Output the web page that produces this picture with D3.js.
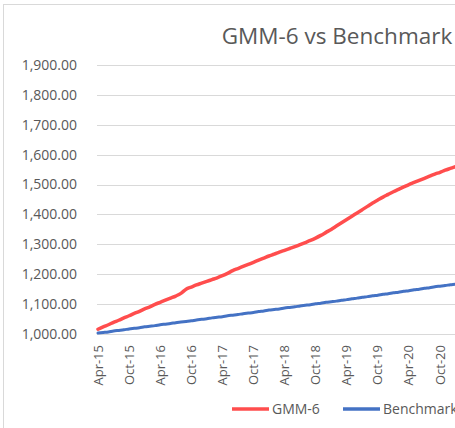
<!DOCTYPE html>
<html>
<head>
<meta charset="utf-8">
<script src="https://cdn.jsdelivr.net/npm/d3@7"></script>
<style>
  html, body { margin: 0; padding: 0; background: #fff; }
  svg { display: block; font-family: "Open Sans", sans-serif; }
</style>
</head>
<body>
<svg id="chart" width="455" height="428"></svg>
<script>
// ---- data ----
const gmm = [1016,1024,1031,1039,1046,1054,1061,1069,1076,1084,1091,1099,
  1106,1113,1120,1127,1136,1150,1157,1164,1170,1176,1182,1188,
  1195,1203,1212,1219,1226,1233,1240,1247,1254,1261,1267,1274,
  1280,1286,1292,1299,1306,1313,1321,1330,1340,1350,1361,1372,
  1383,1394,1405,1416,1427,1438,1448,1458,1467,1476,1484,1492,
  1500,1507,1514,1521,1528,1535,1541,1548,1554,1560,1567,1573,1580];
const benchmark = [1003,1005,1007,1010,1012,1014,1017,1019,1021,1024,1026,1028,
  1031,1033,1035,1038,1040,1042,1044,1047,1049,1051,1054,1056,
  1058,1061,1063,1065,1068,1070,1072,1075,1077,1080,1082,1084,
  1087,1089,1091,1094,1096,1098,1101,1103,1106,1108,1110,1113,
  1115,1118,1120,1123,1125,1128,1130,1133,1135,1138,1140,1143,
  1145,1148,1150,1153,1155,1158,1160,1162,1165,1167,1170,1172,1175];
const xTickLabels = ["Apr-15","Oct-15","Apr-16","Oct-16","Apr-17","Oct-17",
  "Apr-18","Oct-18","Apr-19","Oct-19","Apr-20","Oct-20"];
const yTicks = [1000,1100,1200,1300,1400,1500,1600,1700,1800,1900];
const title = "GMM-6 vs Benchmark";
const seriesNames = ["GMM-6", "Benchmark"];
const colors = ["#FF4D4D", "#4472C4"];

// ---- layout ----
const svg = d3.select("#chart");
const x = d3.scaleLinear().domain([0, 66]).range([98, 440]);
const y = d3.scaleLinear().domain([1000, 1900]).range([334, 65]);
const textColor = "#595959";

// chart border
svg.append("rect").attr("x", 3.5).attr("y", 4.5).attr("width", 600).attr("height", 600)
  .attr("fill", "none").attr("stroke", "#d9d9d9").attr("stroke-width", 1);

// gridlines
svg.append("g").selectAll("line").data(yTicks).join("line")
  .attr("x1", 97).attr("x2", 600)
  .attr("y1", d => Math.round(y(d)) + 0.5).attr("y2", d => Math.round(y(d)) + 0.5)
  .attr("stroke", "#d9d9d9").attr("stroke-width", 1);

// y axis labels
const fmt = d3.format(",.2f");
svg.append("g").selectAll("text").data(yTicks).join("text")
  .attr("x", 77).attr("y", d => y(d)).attr("dy", "0.35em")
  .attr("text-anchor", "end").attr("fill", textColor)
  .style("font-size", "14px").text(d => fmt(d));

// x axis labels
svg.append("g").selectAll("text").data(xTickLabels).join("text")
  .attr("transform", (d, i) => `translate(${x(i * 6)},345) rotate(-90)`)
  .attr("dy", "0.35em").attr("text-anchor", "end").attr("fill", textColor)
  .style("font-size", "13px").text(d => d);

// lines (benchmark below, GMM on top)
const line = d3.line().curve(d3.curveMonotoneX).x((d, i) => x(i)).y(d => y(d));
svg.append("path").datum(benchmark).attr("d", line)
  .attr("fill", "none").attr("stroke", colors[1]).attr("stroke-width", 3)
  .attr("stroke-linejoin", "round").attr("stroke-linecap", "round");
svg.append("path").datum(gmm).attr("d", line)
  .attr("fill", "none").attr("stroke", colors[0]).attr("stroke-width", 3.5)
  .attr("stroke-linejoin", "round").attr("stroke-linecap", "round");

// title
svg.append("text").attr("x", 337).attr("y", 44)
  .attr("text-anchor", "middle").attr("fill", textColor)
  .style("font-size", "22.5px").text(title);

// legend
const legendItems = [{x: 232, name: seriesNames[0], c: colors[0]}, {x: 343, name: seriesNames[1], c: colors[1]}];
const lg = svg.append("g");
legendItems.forEach(it => {
  lg.append("line").attr("x1", it.x).attr("x2", it.x + 37).attr("y1", 409).attr("y2", 409)
    .attr("stroke", it.c).attr("stroke-width", 3.5);
  lg.append("text").attr("x", it.x + 40).attr("y", 409).attr("dy", "0.35em")
    .attr("fill", textColor).style("font-size", "14px").text(it.name);
});
</script>
</body>
</html>
